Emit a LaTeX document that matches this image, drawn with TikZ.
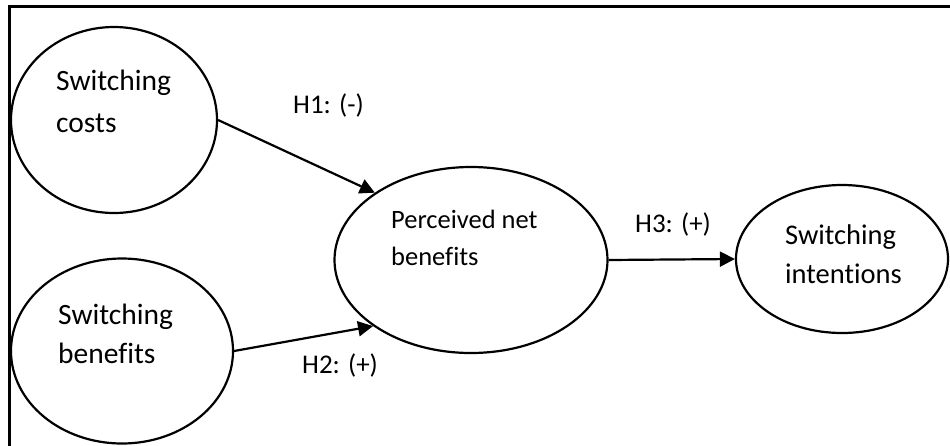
\documentclass[tikz,border=0pt]{standalone}
\usepackage{fontspec}
\setmainfont{Carlito}[Ligatures=NoCommon]
\usetikzlibrary{shapes.geometric,arrows.meta}
\begin{document}
\begin{tikzpicture}[x=1pt,y=-1pt,
  ell/.style={draw,ellipse,line width=2.2pt,inner sep=0pt},
  lbl/.style={inner sep=0pt,anchor=base west,align=left},
  conn/.style={line width=2.2pt,-{Triangle[length=15pt,width=15pt]}},
  frame/.style={line width=3pt}]
\useasboundingbox (0,0) rectangle (950,445);
\coordinate (ftop) at (950,6);
\coordinate (fcorner) at (9,6);
\coordinate (fbot) at (9,450);
\draw[frame] (ftop) -- (fcorner) -- (fbot);
\node[ell,minimum width=206pt,minimum height=186pt] (costs) at (114,120) {};
\node[ell,minimum width=222pt,minimum height=185pt] (benefits) at (122,351) {};
\node[ell,minimum width=273pt,minimum height=186pt] (pnb) at (471,260) {};
\node[ell,minimum width=212pt,minimum height=148pt] (int) at (842,259) {};
\node[lbl,font=\fontsize{29.5}{42}\selectfont] (costs-t) at (56,132) {Switching\\costs};
\node[lbl,font=\fontsize{29.5}{39}\selectfont] (benefits-t) at (58,363) {Switching\\benefits};
\node[lbl,font=\fontsize{26.5}{37}\selectfont] (pnb-t) at (391,265) {Perceived net\\benefits};
\node[lbl,font=\fontsize{28.5}{39}\selectfont] (int-t) at (785,283) {Switching\\intentions};
\node[lbl,font=\fontsize{27}{31}\selectfont] (h1) at (293,113) {H1: (-)};
\node[lbl,font=\fontsize{27}{31}\selectfont] (h2) at (302,373) {H2: (+)};
\node[lbl,font=\fontsize{27}{31}\selectfont] (h3) at (635,232) {H3: (+)};
\draw[conn] (costs.east) -- (pnb.145);
\draw[conn] (benefits.east) -- (pnb.214);
\draw[conn] (pnb.east) -- (int.west);
\end{tikzpicture}
\end{document}
